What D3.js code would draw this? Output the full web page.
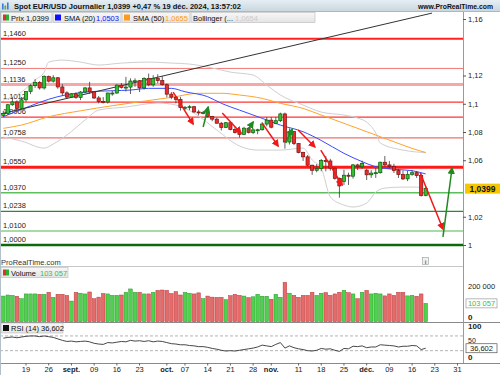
<!DOCTYPE html>
<html lang="fr">
<head>
<meta charset="UTF-8">
<title>Spot EUR/USD Journalier</title>
<script src="https://cdnjs.cloudflare.com/ajax/libs/d3/7.8.5/d3.min.js"></script>
<style>
  body { margin: 0; background: #fff; }
  svg text { font-family: "Liberation Sans", Arial, sans-serif; }
</style>
</head>
<body>
<svg id="chart" width="500" height="375"></svg>
<script>
// daily candles, 12 Aug -> 19 Dec 2024 (index 0 = 12 Aug)
const opens = [1.0918,1.0932,1.0993,1.1013,1.0967,1.1028,1.1086,1.1128,1.1151,1.1112,
  1.1192,1.1160,1.1184,1.1119,1.1077,1.1047,1.1070,1.1045,1.1083,1.1112,
  1.1084,1.1041,1.1017,1.1012,1.1076,1.1076,1.1132,1.1116,1.1118,1.1161,
  1.1163,1.1112,1.1178,1.1134,1.1178,1.1164,1.1135,1.1068,1.1047,1.1031,
  1.0974,1.0975,1.0979,1.0942,1.0935,1.0937,1.0910,1.0891,1.0862,1.0832,
  1.0866,1.0817,1.0797,1.0783,1.0827,1.0797,1.0815,1.0816,1.0856,1.0884,
  1.0860,1.0880,1.0928,1.0729,1.0803,1.0718,1.0655,1.0624,1.0565,1.0529,
  1.0541,1.0598,1.0595,1.0544,1.0472,1.0450,1.0494,1.0487,1.0567,1.0554,
  1.0530,1.0497,1.0509,1.0512,1.0586,1.0567,1.0555,1.0527,1.0499,1.0468,
  1.0500,1.0512,1.0492,1.0351];
const highs = [1.0950,1.0999,1.1047,1.1024,1.1048,1.1090,1.1138,1.1174,1.1160,1.1201,
  1.1200,1.1202,1.1189,1.1139,1.1088,1.1075,1.1080,1.1090,1.1119,1.1155,
  1.1090,1.1055,1.1047,1.1078,1.1093,1.1138,1.1147,1.1190,1.1180,1.1180,
  1.1168,1.1188,1.1214,1.1202,1.1209,1.1196,1.1143,1.1083,1.1055,1.1049,
  1.0984,1.0990,1.0985,1.0957,1.0950,1.0942,1.0914,1.0901,1.0871,1.0871,
  1.0868,1.0836,1.0805,1.0837,1.0834,1.0826,1.0823,1.0870,1.0905,1.0905,
  1.0905,1.0937,1.0937,1.0826,1.0805,1.0722,1.0660,1.0637,1.0568,1.0573,
  1.0609,1.0630,1.0610,1.0548,1.0478,1.0533,1.0512,1.0574,1.0575,1.0597,
  1.0540,1.0530,1.0545,1.0590,1.0630,1.0595,1.0575,1.0540,1.0527,1.0524,
  1.0530,1.0523,1.0507,1.0415];
const lows = [1.0905,1.0921,1.0985,1.0949,1.0962,1.1013,1.1068,1.1112,1.1100,1.1100,
  1.1150,1.1150,1.1106,1.1057,1.1040,1.1045,1.1035,1.1026,1.1073,1.1070,
  1.1033,1.1002,1.1002,1.1001,1.1057,1.1070,1.1107,1.1087,1.1069,1.1120,
  1.1083,1.1100,1.1124,1.1120,1.1145,1.1128,1.1046,1.1032,1.1003,1.0951,
  1.0954,1.0955,1.0935,1.0918,1.0925,1.0903,1.0876,1.0861,1.0811,1.0829,
  1.0812,1.0789,1.0761,1.0779,1.0790,1.0786,1.0784,1.0810,1.0840,1.0826,
  1.0855,1.0870,1.0682,1.0711,1.0707,1.0649,1.0595,1.0557,1.0497,1.0515,
  1.0522,1.0521,1.0526,1.0463,1.0335,1.0425,1.0425,1.0470,1.0530,1.0540,
  1.0460,1.0475,1.0475,1.0505,1.0555,1.0540,1.0510,1.0475,1.0460,1.0452,
  1.0490,1.0475,1.0343,1.0345];
const closes = [1.0932,1.0993,1.1013,1.0967,1.1028,1.1086,1.1128,1.1151,1.1112,1.1192,
  1.1160,1.1184,1.1119,1.1077,1.1047,1.1070,1.1045,1.1083,1.1112,1.1084,
  1.1041,1.1017,1.1012,1.1076,1.1076,1.1132,1.1116,1.1118,1.1161,1.1163,
  1.1112,1.1178,1.1134,1.1178,1.1164,1.1135,1.1068,1.1047,1.1031,1.0974,
  1.0975,1.0979,1.0942,1.0935,1.0937,1.0910,1.0891,1.0862,1.0832,1.0866,
  1.0817,1.0797,1.0783,1.0827,1.0797,1.0815,1.0816,1.0856,1.0884,1.0834,
  1.0880,1.0928,1.0729,1.0803,1.0718,1.0655,1.0624,1.0565,1.0529,1.0541,
  1.0598,1.0595,1.0544,1.0472,1.0418,1.0494,1.0487,1.0567,1.0554,1.0577,
  1.0497,1.0509,1.0512,1.0586,1.0567,1.0555,1.0527,1.0499,1.0468,1.0500,
  1.0512,1.0492,1.0351,1.0399];
const volumes = [144000,150000,148000,143000,129000,156000,156000,156000,154000,154000,
  165000,137000,154000,154000,148000,116000,165000,160000,156000,167000,
  129000,138000,158000,156000,148000,148000,150000,165000,184000,165000,
  165000,156000,156000,165000,176000,178000,176000,158000,169000,150000,
  165000,160000,156000,162000,129000,144000,138000,137000,137000,124000,
  146000,154000,148000,144000,135000,140000,154000,143000,143000,126000,
  154000,137000,221000,160000,148000,137000,148000,148000,165000,148000,
  160000,163000,148000,156000,165000,176000,163000,156000,129000,165000,
  176000,156000,160000,156000,145000,156000,148000,165000,165000,145000,
  148000,143000,156000,103057];
const rsi = [64,66,67,65,67,69,70,70,68,70,68,66,62,58,55,56,54,55,56,54,
  50,48,47,52,51,53,55,54,58,56,57,55,57,54,56,55,52,49,48,46,
  46,44,43,41,41,39,36,34,31,29,30,29,31,33,35,37,40,45,43,41,
  47,52,37,43,38,35,33,30,29,31,36,34,35,31,28,36,35,42,41,43,
  38,40,40,46,45,44,43,40,42,42,44,43,33,36.602];

// indicators: [day index, price]
const sma20 = [[0,1.0908],[4,1.0960],[12,1.1050],[19,1.1085],[24,1.1092],[28,1.1097],[32,1.1109],
  [37,1.1109],[40,1.1085],[45,1.1050],[48,1.1003],[52,1.0955],[57,1.0897],[61,1.0849],[66,1.0802],
  [70,1.0740],[75,1.0649],[79,1.0590],[82,1.0554],[86,1.0536],[90,1.0526],[93,1.0503]];
const sma50 = [[0,1.0826],[4,1.0849],[10,1.0908],[17,1.0950],[24,1.0986],[30,1.1014],[37,1.1045],
  [43,1.1074],[48,1.1074],[52,1.1062],[57,1.1038],[61,1.1003],[66,1.0967],[70,1.0920],[73,1.0885],
  [79,1.0814],[86,1.0731],[90,1.0684],[93,1.0655]];
const bollUpper = [[0,1.1026],[4,1.1083],[7,1.1168],[9,1.1224],[10,1.1295],[13,1.1309],[17,1.1295],
  [21,1.1274],[26,1.1288],[32,1.1295],[37,1.1288],[41,1.1281],[46,1.1253],[50,1.1224],[55,1.1203],
  [58,1.1132],[61,1.1062],[66,1.0991],[70,1.0941],[75,1.0920],[78,1.0899],[80,1.0870],[82,1.0793],
  [83,1.0722],[88,1.0672],[93,1.0654]];
const bollLower = [[0,1.0764],[4,1.0736],[9,1.0686],[11,1.0715],[14,1.0778],[18,1.0885],[21,1.0955],
  [27,1.0977],[34,1.1005],[38,1.0991],[42,1.0934],[47,1.0814],[52,1.0701],[56,1.0672],[61,1.0672],
  [66,1.0686],[68,1.0602],[70,1.0545],[72,1.0340],[75,1.0283],[77,1.0269],[80,1.0297],[82,1.0375],
  [84,1.0403],[88,1.0410],[91,1.0410],[93,1.0389]];
const trendLine = [[-0.73,1.0927],[94.4,1.1642]];

// hand drawn arrows: [from index, from price, to index, to price]
const redArrows = [[37.4,1.1083,41.8,1.0856],[48.2,1.0934,52.3,1.0793],[57.0,1.0863,60.5,1.0701],
  [64.9,1.0814,68.6,1.0694],[69.9,1.0672,74.6,1.0425],[91.8,1.0510,96.8,1.0113]];
const greenArrows = [[44.0,1.0835,45.1,1.0977],[53.7,1.0807,55.0,1.0870],[62.2,1.0722,63.6,1.0821],
  [96.8,1.0057,98.8,1.0545]];

const levels = [1.1460,1.1250,1.1136,1.1012,1.0906,1.0758,1.0550,1.0370,1.0238,1.0100,1.0000];
const priceTicks = [1,1.02,1.06,1.08,1.1,1.12,1.16];
const dateTickIdx = [5,10,15,20,25,30,36,40,45,50,55,59,65,70,75,80,85,90,95,100];
const dateTickLabels = ["19","26","sept.","09","16","23","oct.","07","14","21","28","nov.",
  "11","18","25","déc.","09","16","23","31"];
const monthLabels = ["sept.","oct.","nov.","déc."];

const lastPrice = 1.0399, lastSma20 = 1.0503, lastSma50 = 1.0655, lastBoll = 1.0654;

// colour / width of each level line, same order as levels
const levelStyles = [["#ff2222", 2], ["#f27a7a", 1], ["#f6a8a8", 3], ["#ff3333", 1.3],
  ["#ff3333", 1.3], ["#f27070", 1.3], ["#ff1a1a", 3], ["#5cbf5c", 1.3],
  ["#2f8a2f", 1.3], ["#a6dba6", 2], ["#0b6b0b", 2.5]];

const fr = d3.formatLocale({decimal: ",", thousands: " ", grouping: [3], currency: ["", " €"]});
const f4 = fr.format(".4f"), fTick = fr.format("~g"), fVol = fr.format(",d"), f3 = fr.format(".3f");

const W = 500, axisX = 463;
const svg = d3.select("#chart");

const x = d3.scaleLinear().domain([-0.727, 101.21]).range([0, axisX]);
const y = d3.scaleLinear().domain([1.0, 1.16]).range([245, 19]);
const yV = d3.scaleLinear().domain([0, 200000]).range([321.7, 286.1]);
const yR = d3.scaleLinear().domain([0, 100]).range([361.7, 324.9]);

const defs = svg.append("defs");
const g1 = defs.append("linearGradient").attr("id", "bar").attr("x1", 0).attr("x2", 0).attr("y1", 0).attr("y2", 1);
g1.append("stop").attr("offset", 0).attr("stop-color", "#e6eef3");
g1.append("stop").attr("offset", 1).attr("stop-color", "#c9d6de");
const g2 = defs.append("linearGradient").attr("id", "leg").attr("x1", 0).attr("x2", 0).attr("y1", 0).attr("y2", 1);
g2.append("stop").attr("offset", 0).attr("stop-color", "#f7f7f7");
g2.append("stop").attr("offset", 1).attr("stop-color", "#e4e4e4");
defs.append("clipPath").attr("id", "pclip").append("rect").attr("x", 0).attr("y", 12).attr("width", axisX).attr("height", 254);
[["red", "#f01818"], ["green", "#1f8a1f"]].forEach(([n, c]) => {
  defs.append("marker").attr("id", "head-" + n).attr("viewBox", "0 0 10 10")
    .attr("refX", 8).attr("refY", 5).attr("markerWidth", 5).attr("markerHeight", 5)
    .attr("markerUnits", "strokeWidth").attr("orient", "auto")
    .append("path").attr("d", "M0,0L10,5L0,10z").attr("fill", c);
});

// ---------- price panel ----------
const price = svg.append("g").attr("clip-path", "url(#pclip)");

levels.forEach((l, k) => {
  const [c, w] = levelStyles[k];
  price.append("line").attr("x1", 0).attr("x2", axisX).attr("y1", y(l)).attr("y2", y(l))
    .attr("stroke", c).attr("stroke-width", w);
  price.append("text").attr("x", 3).attr("y", y(l) - 3).attr("font-size", 7.5).attr("fill", "#222").text(f4(l));
});

const line = d3.line().x(d => x(d[0])).y(d => y(d[1])).curve(d3.curveMonotoneX);
price.append("path").attr("d", line(bollUpper)).attr("fill", "none").attr("stroke", "#cfcfcf").attr("stroke-width", 1);
price.append("path").attr("d", line(bollLower)).attr("fill", "none").attr("stroke", "#cfcfcf").attr("stroke-width", 1);
price.append("path").attr("d", line(sma50)).attr("fill", "none").attr("stroke", "#ffa42a").attr("stroke-width", 1);
price.append("path").attr("d", line(sma20)).attr("fill", "none").attr("stroke", "#3a4cff").attr("stroke-width", 1);
price.append("path").attr("d", d3.line().x(d => x(d[0])).y(d => y(d[1]))(trendLine))
  .attr("fill", "none").attr("stroke", "#333").attr("stroke-width", 1);

const days = d3.range(closes.length);
const up = i => closes[i] >= opens[i];

price.selectAll(".wick").data(days).enter().append("line")
  .attr("x1", i => x(i)).attr("x2", i => x(i))
  .attr("y1", i => y(highs[i])).attr("y2", i => y(lows[i]))
  .attr("stroke", "#3a3a3a").attr("stroke-width", 0.8);
price.selectAll(".body").data(days).enter().append("rect")
  .attr("x", i => x(i) - 1.6).attr("width", 3.2)
  .attr("y", i => y(Math.max(opens[i], closes[i])))
  .attr("height", i => Math.max(1, Math.abs(y(opens[i]) - y(closes[i]))))
  .attr("fill", i => up(i) ? "#30c030" : "#ec2b2b")
  .attr("stroke", i => up(i) ? "#0c5c0c" : "#7c1010").attr("stroke-width", 0.7);

const drawArrows = (list, name, color) => {
  price.selectAll(".arr-" + name).data(list).enter().append("line")
    .attr("x1", d => x(d[0])).attr("y1", d => y(d[1]))
    .attr("x2", d => x(d[2])).attr("y2", d => y(d[3]))
    .attr("stroke", color).attr("stroke-width", 1.5)
    .attr("marker-end", "url(#head-" + name + ")");
};
drawArrows(redArrows, "red", "#f01818");
drawArrows(greenArrows, "green", "#1f8a1f");

// ---------- volume panel ----------
svg.selectAll(".vol").data(days).enter().append("rect")
  .attr("x", i => x(i) - 1.8).attr("width", 3.6)
  .attr("y", i => yV(volumes[i])).attr("height", i => yV(0) - yV(volumes[i]))
  .attr("fill", i => up(i) ? "#4fd04f" : "#e66a6a")
  .attr("stroke", i => up(i) ? "#2a9a2a" : "#b83a3a").attr("stroke-width", 0.5);

// ---------- RSI panel ----------
[70, 30].forEach(v => svg.append("line").attr("x1", 0).attr("x2", axisX).attr("y1", yR(v)).attr("y2", yR(v))
  .attr("stroke", "#a0a0a0").attr("stroke-dasharray", "3,2").attr("stroke-width", 0.8));
svg.append("path").datum(rsi)
  .attr("d", d3.line().x((d, i) => x(i)).y(d => yR(d)))
  .attr("fill", "none").attr("stroke", "#333").attr("stroke-width", 0.9);

// ---------- frames ----------
svg.append("line").attr("x1", 0).attr("x2", axisX).attr("y1", 266.5).attr("y2", 266.5).attr("stroke", "#c8c8c8");
svg.append("line").attr("x1", 0).attr("x2", W).attr("y1", 322.5).attr("y2", 322.5).attr("stroke", "#8a8a8a");
svg.append("line").attr("x1", 0).attr("x2", W).attr("y1", 363.5).attr("y2", 363.5).attr("stroke", "#8a8a8a");
svg.append("line").attr("x1", axisX + 0.5).attr("x2", axisX + 0.5).attr("y1", 12).attr("y2", 363).attr("stroke", "#9a9a9a");
svg.append("line").attr("x1", 0.5).attr("x2", 0.5).attr("y1", 12).attr("y2", 375).attr("stroke", "#b4c0c8");

// right axes
const styleAxis = (g) => {
  g.select(".domain").remove();
  g.selectAll(".tick line").attr("stroke", "#555");
  g.selectAll("text").attr("font-size", 7.5).attr("fill", "#222").attr("font-family", "Liberation Sans, Arial, sans-serif");
};
svg.append("g").attr("transform", `translate(${axisX},0)`)
  .call(d3.axisRight(y).tickValues(priceTicks).tickSize(3).tickPadding(2).tickFormat(fTick))
  .call(styleAxis);
svg.append("g").attr("transform", `translate(${axisX},0)`)
  .call(d3.axisRight(yV).tickValues([200000]).tickSize(0).tickPadding(5).tickFormat(fVol))
  .call(styleAxis);
svg.append("text").attr("x", 468).attr("y", 319.5).attr("font-size", 8).attr("font-weight", "bold").attr("fill", "#222").text("0");
svg.append("text").attr("x", 468).attr("y", 329).attr("font-size", 8).attr("font-weight", "bold").attr("fill", "#222").text("100");
svg.append("text").attr("x", 468).attr("y", 343).attr("font-size", 7).attr("fill", "#222").text("50");
svg.append("text").attr("x", 468).attr("y", 360).attr("font-size", 8).attr("font-weight", "bold").attr("fill", "#222").text("0");

// value boxes on the right
const valueBox = (cy, t, fill, stroke, color) => {
  svg.append("rect").attr("x", 466).attr("y", cy - 4.5).attr("width", 31).attr("height", 9)
    .attr("fill", fill).attr("stroke", stroke).attr("stroke-width", 0.7);
  svg.append("text").attr("x", 481.5).attr("y", cy + 3).attr("text-anchor", "middle")
    .attr("font-size", 7.5).attr("fill", color).text(t);
};
svg.append("rect").attr("x", 465).attr("y", y(lastPrice) - 5).attr("width", 35).attr("height", 10).attr("fill", "#f7c600");
svg.append("text").attr("x", 482.5).attr("y", y(lastPrice) + 3.2).attr("text-anchor", "middle")
  .attr("font-size", 8.5).attr("font-weight", "bold").attr("fill", "#111").text(f4(lastPrice));
valueBox(yV(volumes[volumes.length - 1]), fVol(volumes[volumes.length - 1]), "#fff", "#9a9a9a", "#44bb44");
valueBox(yR(rsi[rsi.length - 1]), f3(rsi[rsi.length - 1]), "#fff", "#555", "#222");

// date axis
svg.selectAll(".dlab").data(dateTickIdx).enter().append("text")
  .attr("x", i => x(i)).attr("y", 372).attr("text-anchor", "middle").attr("font-size", 7.5)
  .attr("font-weight", (d, k) => monthLabels.includes(dateTickLabels[k]) ? "bold" : "normal")
  .attr("fill", "#222").text((d, k) => dateTickLabels[k]);
svg.selectAll(".dtick").data(dateTickIdx).enter().append("line")
  .attr("x1", i => x(i)).attr("x2", i => x(i)).attr("y1", 363).attr("y2", 365.5).attr("stroke", "#666");

// ---------- header ----------
svg.append("rect").attr("x", 0).attr("y", 0).attr("width", W).attr("height", 11.5).attr("fill", "url(#bar)");
svg.append("line").attr("x1", 0).attr("x2", W).attr("y1", 11.5).attr("y2", 11.5).attr("stroke", "#aab8c2");
[[2, 6, "#3a7bd5"], [4.5, 4, "#4caf50"], [7, 7, "#3a7bd5"]].forEach(([bx, h, c]) =>
  svg.append("rect").attr("x", bx).attr("y", 9.5 - h).attr("width", 1.6).attr("height", h).attr("fill", c));
svg.append("text").attr("x", 14).attr("y", 9).attr("font-size", 7.4).attr("font-weight", "bold").attr("fill", "#111")
  .attr("textLength", 227).attr("lengthAdjust", "spacingAndGlyphs")
  .text("Spot EUR/USD Journalier " + f4(lastPrice) + " +0,47 % 19 déc. 2024, 13:57:02");
svg.append("text").attr("x", 418).attr("y", 9).attr("font-size", 7.2)
  .attr("font-weight", "bold").attr("fill", "#111").attr("textLength", 75).attr("lengthAdjust", "spacingAndGlyphs")
  .text("www.ProRealTime.com");

// legend row
const legendBox = (x0, w, yy) => svg.append("rect").attr("x", x0).attr("y", yy).attr("width", w).attr("height", 10)
  .attr("fill", "url(#leg)").attr("stroke", "#b8b8b8").attr("stroke-width", 0.6);
const twoTone = (x0, yy) => {
  svg.append("rect").attr("x", x0).attr("y", yy).attr("width", 3).attr("height", 6).attr("fill", "#e03030");
  svg.append("rect").attr("x", x0 + 3).attr("y", yy).attr("width", 3).attr("height", 6).attr("fill", "#30b030");
};
const txt = (tx, ty, s, c) => svg.append("text").attr("x", tx).attr("y", ty).attr("font-size", 7.5).attr("fill", c).text(s);

legendBox(1, 51, 12.5); twoTone(3, 14.5); txt(11, 20.5, "Prix " + f4(lastPrice), "#111");
legendBox(53, 68, 12.5);
svg.append("rect").attr("x", 55).attr("y", 14.5).attr("width", 6).attr("height", 6).attr("fill", "#1010ff");
txt(64, 20.5, "SMA (20)", "#111"); txt(96, 20.5, f4(lastSma20), "#1010ff");
legendBox(122, 68, 12.5);
svg.append("rect").attr("x", 124).attr("y", 14.5).attr("width", 6).attr("height", 6).attr("fill", "#ff9a1a");
txt(133, 20.5, "SMA (50)", "#111"); txt(165, 20.5, f4(lastSma50), "#ff9a1a");
legendBox(191, 124, 12.5);
txt(193, 20.5, "Bollinger (...", "#111"); txt(235, 20.5, f4(lastBoll), "#cccccc");

// lower legends
txt(1, 265, "ProRealTime.com", "#333");
legendBox(1, 67, 267.5); twoTone(3, 269.5);
txt(11, 275.5, "Volume", "#111"); txt(40, 275.5, fVol(volumes[volumes.length - 1]), "#44bb44");
legendBox(1, 62, 323);
svg.append("rect").attr("x", 3).attr("y", 325).attr("width", 6).attr("height", 6).attr("fill", "#111");
txt(11, 331, "RSI (14) " + f3(rsi[rsi.length - 1]), "#111");

// info icon
svg.append("rect").attr("x", 422.5).attr("y", 257.5).attr("width", 6).attr("height", 7)
  .attr("fill", "#f0f0f0").attr("stroke", "#999").attr("stroke-width", 0.6);
svg.append("text").attr("x", 425.5).attr("y", 263.5).attr("text-anchor", "middle").attr("font-size", 6)
  .attr("font-weight", "bold").attr("fill", "#666").text("i");
</script>
</body>
</html>
